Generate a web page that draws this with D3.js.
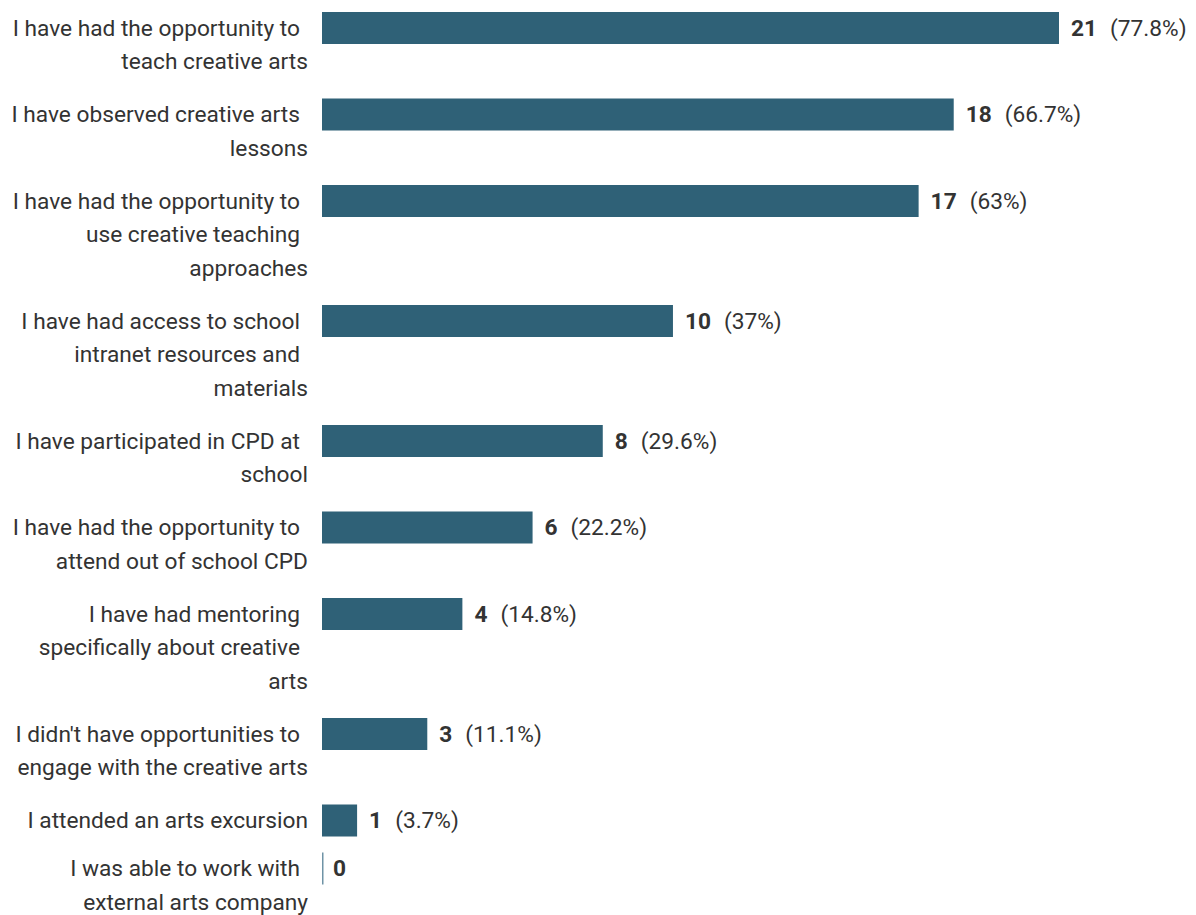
<!DOCTYPE html>
<html>
<head>
<meta charset="utf-8">
<script src="https://cdn.jsdelivr.net/npm/d3@7"></script>
<style>
  body { margin: 0; background: #fff; }
  svg { display: block; font-family: Roboto, "Noto Sans", sans-serif; }
</style>
</head>
<body>
<div id="chart"></div>
<script>
// labels, already broken into the lines shown in the picture
const labels = [
    ["I have had the opportunity to", "teach creative arts"],
    ["I have observed creative arts", "lessons"],
    ["I have had the opportunity to", "use creative teaching", "approaches"],
    ["I have had access to school", "intranet resources and", "materials"],
    ["I have participated in CPD at", "school"],
    ["I have had the opportunity to", "attend out of school CPD"],
    ["I have had mentoring", "specifically about creative", "arts"],
    ["I didn't have opportunities to", "engage with the creative arts"],
    ["I attended an arts excursion"],
    ["I was able to work with", "external arts company"]
];
const counts = [21, 18, 17, 10, 8, 6, 4, 3, 1, 0];
const percents = ["77.8%", "66.7%", "63%", "37%", "29.6%", "22.2%", "14.8%", "11.1%", "3.7%", ""];

const width = 1196, height = 915;
const barX = 322;
const barH = 32;
const lineH = 33.5;
const top0 = 12;
const fontSize = "22.7px";

const svg = d3.select("#chart").append("svg")
    .attr("width", width)
    .attr("height", height);

// row tops from line counts
const rowH = n => n === 1 ? 48 : n * 33.5 + 19.5;
const tops = [];
labels.reduce((y, l) => { tops.push(y); return y + rowH(l.length); }, top0);

const x = d3.scaleLinear()
    .domain([0, 21])
    .range([barX, 1059]);

const rows = svg.selectAll("g.row")
    .data(labels.map((l, i) => ({ lines: l, count: counts[i], pct: percents[i], top: tops[i] })))
    .enter()
    .append("g")
    .attr("class", "row")
    .attr("transform", d => `translate(0, ${d.top})`);

rows.each(function(d) {
    const g = d3.select(this);
    d.lines.forEach((line, j) => {
        g.append("text")
            .attr("x", j === d.lines.length - 1 ? 308 : 300)
            .attr("y", 23.5 + j * lineH)
            .attr("text-anchor", "end")
            .attr("fill", "#333")
            .style("font-size", fontSize)
            .text(line);
    });
});

rows.filter(d => d.count > 0)
    .append("rect")
    .attr("x", barX)
    .attr("y", 0)
    .attr("width", d => x(d.count) - barX)
    .attr("height", barH)
    .attr("fill", "#2f6177");

rows.filter(d => d.count === 0)
    .append("rect")
    .attr("x", barX)
    .attr("y", 0)
    .attr("width", 1.5)
    .attr("height", barH)
    .attr("fill", "#6f93a6");

const val = rows.append("text")
    .attr("x", d => x(d.count) + (d.count > 0 ? 12 : 11))
    .attr("y", 23.5)
    .attr("fill", "#333")
    .style("font-size", fontSize);

val.append("tspan")
    .attr("font-weight", "bold")
    .text(d => d.count);

val.filter(d => d.pct)
    .append("tspan")
    .attr("dx", 13)
    .text(d => `(${d.pct})`);
</script>
</body>
</html>
